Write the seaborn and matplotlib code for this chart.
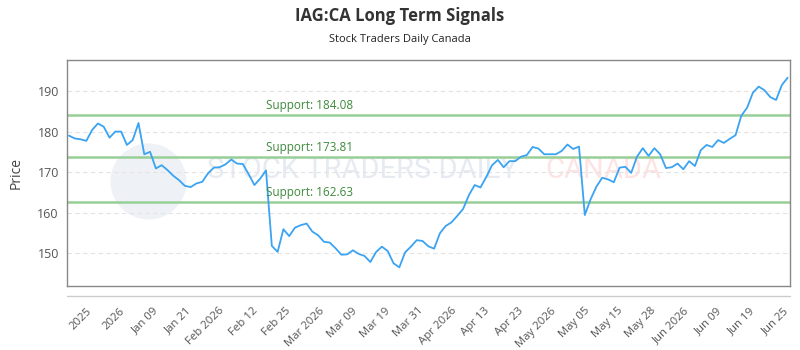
# import libraries
import numpy as np
import pandas as pd
import seaborn as sns
import matplotlib.pyplot as plt
from matplotlib.lines import Line2D

# closing prices, one per session
prices = [
    179.0, 178.3, 178.1, 177.7, 180.4, 182.0, 181.2, 178.5, 180.0, 180.0,
    176.7, 177.9, 182.1, 174.4, 175.0, 170.9, 171.7, 170.5, 169.1, 168.0,
    166.6, 166.3, 167.2, 167.6, 169.7, 171.1, 171.2, 171.9, 173.1, 172.1,
    172.0, 169.5, 166.8, 168.4, 170.4, 151.8, 150.3, 155.9, 154.2, 156.3,
    156.9, 157.3, 155.3, 154.4, 152.8, 152.6, 151.2, 149.6, 149.7, 150.7,
    149.8, 149.3, 147.8, 150.3, 151.6, 150.5, 147.5, 146.5, 150.2, 151.6,
    153.2, 153.0, 151.7, 151.1, 154.9, 156.7, 157.6, 159.2, 160.9, 164.3,
    166.8, 166.2, 168.8, 171.7, 173.0, 171.2, 172.7, 172.7, 173.8, 174.2,
    176.2, 175.8, 174.4, 174.4, 174.4, 175.2, 176.8, 175.7, 176.3, 159.4,
    163.3, 166.4, 168.6, 168.2, 167.5, 171.1, 171.3, 169.8, 173.8, 175.9,
    174.0, 175.9, 174.4, 171.0, 171.2, 172.1, 170.7, 172.7, 171.5, 175.4,
    176.7, 176.2, 177.9, 177.2, 178.2, 179.1, 183.9, 185.9, 189.6, 191.1,
    190.2, 188.5, 187.8, 191.5, 193.3,
]

# support levels
support_levels = [184.08, 173.81, 162.63]

# x-axis labels
tick_labels = [
    "2025", "2026", "Jan 09", "Jan 21", "Feb 2026", "Feb 12", "Feb 25",
    "Mar 2026", "Mar 09", "Mar 19", "Mar 31", "Apr 2026", "Apr 13", "Apr 23",
    "May 2026", "May 05", "May 15", "May 28", "Jun 2026", "Jun 09", "Jun 19",
    "Jun 25",
]

df = pd.DataFrame({"idx": np.arange(len(prices)), "price": prices})

sns.set_style("white")
plt.rcParams["font.family"] = ["Open Sans", "DejaVu Sans"]

fig = plt.figure(figsize=(8, 3.5), dpi=100)
ax = fig.add_axes([0.084, 0.183, 0.9035, 0.646])

# faint watermark (logo + brand text)
ax.scatter([0.112], [0.465], s=3000, color="#e8ecf2", alpha=0.7,
           transform=ax.transAxes, zorder=0, linewidths=0)
ax.text(0.193, 0.515, "STOCK TRADERS DAILY", transform=ax.transAxes,
        fontsize=21, color="#e6eaf1", va="center", ha="left", zorder=0,
        family="Roboto")
ax.text(0.661, 0.515, "CANADA", transform=ax.transAxes,
        fontsize=21, color="#fde4e4", va="center", ha="left", zorder=0,
        family="Roboto")

# support lines with labels
for lvl in support_levels:
    ax.axhline(lvl, color="#98cf98", lw=1.8, zorder=1)
    ax.text(34, lvl + 0.7, f"Support: {lvl:.2f}", color="#3d8a3d",
            fontsize=8.5, ha="left", va="bottom", zorder=3)

sns.lineplot(data=df, x="idx", y="price", color="#3aa3f2", lw=1.3, ax=ax,
             zorder=2)

ax.set_xlim(-0.3, len(prices) - 0.6)
ax.set_ylim(141.9, 197.7)
ax.set_yticks([150, 160, 170, 180, 190])
ax.yaxis.grid(True, color="#e3e3e3", linestyle=(0, (4, 3)), lw=0.8)
ax.set_axisbelow(True)

tick_pos = np.linspace(3.0, 123.2, len(tick_labels))
ax.set_xticks(tick_pos)
ax.set_xticklabels(tick_labels, rotation=45, ha="right",
                   rotation_mode="anchor")
ax.tick_params(axis="x", length=0, pad=14, labelsize=8.2, labelcolor="#555555")
ax.tick_params(axis="y", length=0, pad=6, labelsize=9, labelcolor="#555555")

ax.set_xlabel("")
ax.set_ylabel("Price", fontsize=10, color="#444444", labelpad=10)

for sp in ax.spines.values():
    sp.set_color("#888888")
    sp.set_linewidth(1.0)

# separate light axis line under the plot
fig.add_artist(Line2D([0.084, 0.9875], [0.154, 0.154], color="#cccccc", lw=1))

fig.text(0.5, 0.955, "IAG:CA Long Term Signals", ha="center", va="center",
         fontsize=12, fontweight="bold", color="#333333")
fig.text(0.5, 0.886, "Stock Traders Daily Canada", ha="center", va="center",
         fontsize=8, color="#222222")

plt.savefig("out.png", dpi=100)
